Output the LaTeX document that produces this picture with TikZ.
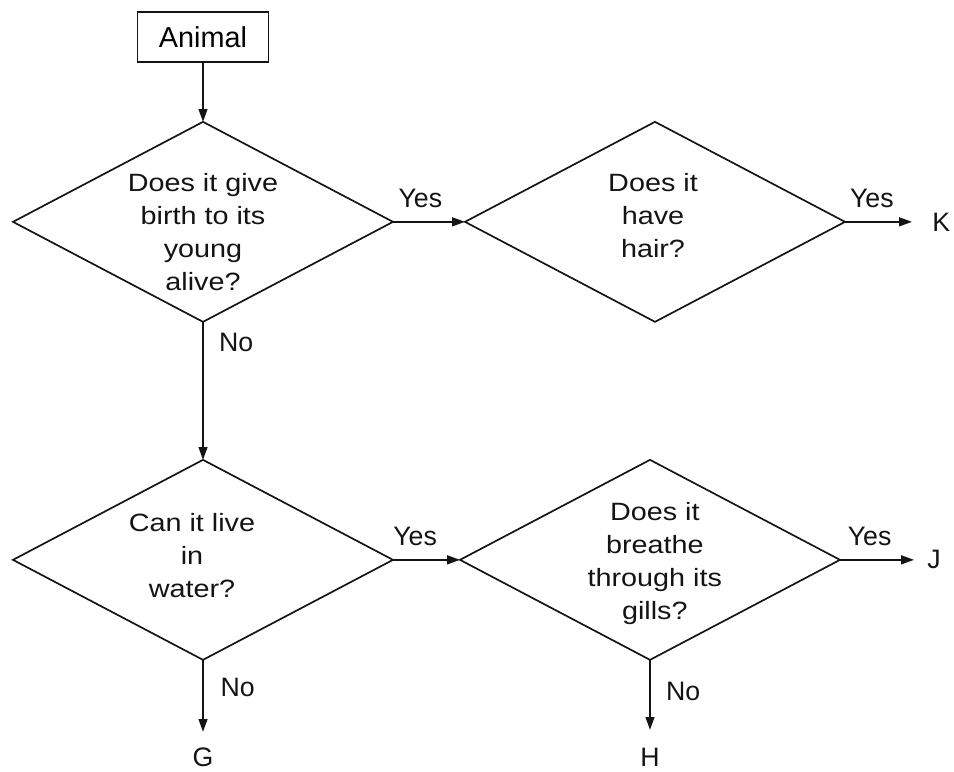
\documentclass[tikz,border=0pt]{standalone}
\usepackage{fontspec}
\setmainfont{Liberation Sans}
\newfontfamily\qfont[FakeStretch=1.15]{Liberation Sans}
\usetikzlibrary{arrows.meta, positioning, shapes.geometric}
\definecolor{ink}{RGB}{20,20,20}

\begin{document}
\begin{tikzpicture}[
    node distance=1.475cm and 1.8cm,
    box/.style={rectangle, draw=ink, line width=1.2pt, minimum width=3.275cm,
                minimum height=1.25cm, inner sep=0pt, font=\fontsize{20.5}{24}\selectfont},
    question/.style={diamond, draw=ink, line width=1.2pt, minimum width=9.5cm,
                     minimum height=5cm, inner sep=0pt, outer sep=0pt},
    qtext/.style={align=center, inner sep=0pt, text=ink,
                  font=\qfont\fontsize{17.8}{23.5}\selectfont},
    lbl/.style={inner sep=0pt, text=ink, font=\fontsize{19}{23}\selectfont},
    arr/.style={-{Triangle[length=3.2mm, width=2.2mm]}, line width=1.2pt, draw=ink}
  ]
    \useasboundingbox (0,0) rectangle (23.85,-19.275);

    \node[box] (animal) at (5.075,-0.925) {Animal};
    \node[question, below=of animal] (q1) {};
    \node[question, right=of q1] (q2) {};
    \node[question, below=3.45cm of q1] (q3) {};
    \node[question, right=1.675cm of q3] (q4) {};

    \node[qtext] (t1) at ([yshift=-0.25cm]q1.center) {Does it give\\birth to its\\young\\alive?};
    \node[qtext] (t2) at ([xshift=-0.05cm, yshift=0.16cm]q2.center) {Does it\\have\\hair?};
    \node[qtext] (t3) at ([xshift=-0.275cm, yshift=0.1cm]q3.center) {Can it live\\in\\water?};
    \node[qtext] (t4) at ([xshift=0.12cm, yshift=-0.1cm]q4.center) {Does it\\breathe\\through its\\gills?};

    % free ends of the outcome arrows
    \coordinate[right=1.675cm of q2.east] (kend);
    \coordinate[right=1.85cm of q4.east] (jend);
    \coordinate[below=1.8cm of q3.south] (gend);
    \coordinate[below=1.75cm of q4.south] (hend);

    \node[lbl, right=0.5cm of kend, anchor=west] (K) {K};
    \node[lbl, right=0.33cm of jend, anchor=west] (J) {J};
    \node[lbl, below=0.4cm of gend, anchor=north] (G) {G};
    \node[lbl, below=0.45cm of hend, anchor=north] (H) {H};

    \draw[arr] (animal) -- (q1.north);
    \draw[arr] (q1.east) -- node[lbl, pos=0.38, above=0.33cm] (y1) {Yes} (q2.west);
    \draw[arr] (q2.east) -- node[lbl, pos=0.4, above=0.33cm] (y2) {Yes} (kend);
    \draw[arr] (q1.south) -- node[lbl, pos=0.15, right=0.38cm] (n1) {No} (q3.north);
    \draw[arr] (q3.east) -- node[lbl, pos=0.33, above=0.33cm] (y3) {Yes} (q4.west);
    \draw[arr] (q4.east) -- node[lbl, pos=0.4, above=0.33cm] (y4) {Yes} (jend);
    \draw[arr] (q3.south) -- node[lbl, pos=0.39, right=0.42cm] (n2) {No} (gend);
    \draw[arr] (q4.south) -- node[lbl, pos=0.45, right=0.38cm] (n3) {No} (hend);
  \end{tikzpicture}
\end{document}
